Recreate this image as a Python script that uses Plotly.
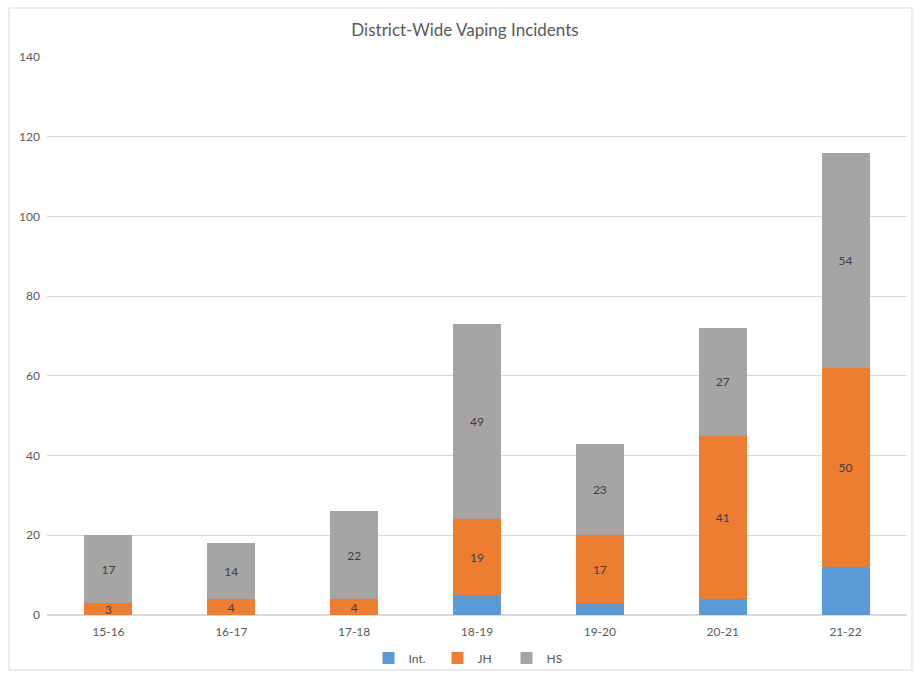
import plotly.graph_objects as go

years = ["15-16", "16-17", "17-18", "18-19", "19-20", "20-21", "21-22"]
int_vals = [0, 0, 0, 5, 3, 4, 12]
jh_vals = [3, 4, 4, 19, 17, 41, 50]
hs_vals = [17, 14, 22, 49, 23, 27, 54]

FONT = "Lato"
W, H = 914, 673
ml, mr, mt, mb = 47, 7, 57, 58

fig = go.Figure()
fig.add_trace(go.Bar(name="Int.", x=years, y=int_vals, marker_color="#5B9BD5",
                     marker_line_width=0))
fig.add_trace(go.Bar(name="JH", x=years, y=jh_vals, marker_color="#ED7D31",
                     marker_line_width=0, text=jh_vals, textposition="inside",
                     insidetextanchor="middle", textangle=0,
                     textfont=dict(color="#404040", size=12, family=FONT)))
fig.add_trace(go.Bar(name="HS", x=years, y=hs_vals, marker_color="#A5A5A5",
                     marker_line_width=0, text=hs_vals, textposition="inside",
                     insidetextanchor="middle", textangle=0,
                     textfont=dict(color="#404040", size=12, family=FONT)))

pw = W - ml - mr
ph = H - mt - mb
fig.add_shape(type="rect", xref="paper", yref="paper",
              x0=(9 - ml) / pw, x1=(912 - ml) / pw,
              y0=(H - mb - 670) / ph, y1=(H - mb - 8) / ph,
              line=dict(color="#D9D9D9", width=1), fillcolor="rgba(0,0,0,0)",
              layer="below")

fig.update_layout(
    barmode="stack",
    bargap=0.61,
    width=W, height=H,
    margin=dict(l=ml, r=mr, t=mt, b=mb, autoexpand=False),
    paper_bgcolor="white", plot_bgcolor="white",
    title=dict(text="District-Wide Vaping Incidents", x=465 / W, xanchor="center",
               xref="container", y=1 - 30 / H, yanchor="middle",
               font=dict(family=FONT, size=17, color="#595959")),
    font=dict(family=FONT, size=12, color="#595959"),
    uniformtext=dict(minsize=8, mode="show"),
    showlegend=True,
    legend=dict(orientation="h", x=472 / W, xanchor="center", xref="container",
                y=1 - 658 / H, yref="container", yanchor="middle",
                font=dict(family=FONT, size=12, color="#595959"),
                itemwidth=30, entrywidth=24, traceorder="normal",
                bgcolor="rgba(0,0,0,0)"),
    xaxis=dict(showgrid=False, showline=True, linecolor="#D9D9D9", linewidth=1,
               ticks="", ticklabelstandoff=6,
               tickfont=dict(family=FONT, size=12, color="#595959")),
    yaxis=dict(range=[0, 140], dtick=20, showgrid=True, gridcolor="#D9D9D9",
               gridwidth=1, zeroline=True, zerolinecolor="#D9D9D9", showline=False,
               ticks="", ticklabelstandoff=6,
               tickfont=dict(family=FONT, size=12, color="#595959")),
)

fig.write_html("out.html")
